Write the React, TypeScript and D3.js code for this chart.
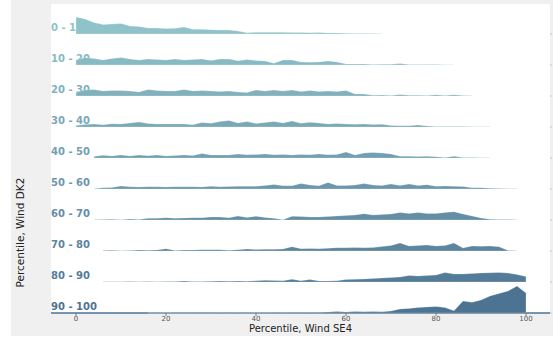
import React from 'react';
import * as d3 from 'd3';

// bin centres on the SE4 percentile axis
const SE4_BINS = [
  0, 2, 4, 6, 8, 10, 12, 14, 16, 18, 20, 22, 24, 26, 28, 30, 32, 34, 36, 38, 40, 42, 44, 46, 48,
  50, 52, 54, 56, 58, 60, 62, 64, 66, 68, 70, 72, 74, 76, 78, 80, 82, 84, 86, 88, 90, 92, 94, 96, 98, 100,
];

const DK2_RANGES = ['0 - 10', '10 - 20', '20 - 30', '30 - 40', '40 - 50', '50 - 60', '60 - 70', '70 - 80', '80 - 90', '90 - 100'];

const X_TICKS = [0, 20, 40, 60, 80, 100];

// relative frequency per bin, one list per DK2 percentile band
const DENS_0_10 = [
  17, 15, 11.5, 9.5, 10, 10.5, 8, 7.5, 6, 6, 5.5, 5.7, 7, 4.7, 4.7, 4.3, 4, 4, 3, 1.3, 1.7, 1.7, 1.7, 1.7, 1.5,
  1.6, 1.3, 1.5, 1, 1.1, 0.8, 0.6, 0.5, 0.5, 0.3, 0, 0, 0, 0, 0, 0, 0, 0, 0, 0, 0, 0, 0, 0, 0, 0,
];
const DENS_10_20 = [
  5, 7.5, 6.5, 5, 6.5, 7.5, 6, 5, 6, 5.5, 5, 6, 5, 5.5, 6, 4.5, 6, 6, 4.2, 5.5, 4.5, 4, 1.7, 5, 5,
  3, 2.7, 3, 4, 3, 1, 1, 1, 0.6, 0.7, 0.8, 1.5, 0.6, 0.5, 0.4, 0.4, 0.3, 0.3, 0, 0, 0, 0, 0, 0, 0, 0,
];
const DENS_20_30 = [
  3.5, 6, 6.5, 5, 5.5, 5.5, 5, 4, 6.5, 5.5, 5, 5, 6.5, 5, 5.5, 5, 4.5, 5, 4, 3.5, 6, 5, 6, 5, 6,
  4.5, 5.5, 4.5, 5, 4.5, 5.5, 2, 2, 0.8, 1, 0.6, 1.5, 0.8, 0.7, 0.5, 1.2, 0.5, 1.3, 0.6, 0.2, 0, 0, 0, 0, 0, 0,
];
const DENS_30_40 = [
  1.5, 2.5, 3, 2.3, 3.2, 3, 4, 5, 3.5, 3, 3, 3, 3, 2.3, 4.5, 3.7, 5.5, 6.5, 4, 5.5, 3.5, 4.5, 5.5, 4, 6,
  3.7, 4.7, 4, 3, 3.5, 3, 2.7, 3, 2.5, 2.7, 1.5, 1.3, 1.2, 2, 1, 0.5, 0.5, 0.4, 0.4, 0.3, 0.3, 0.2, 0, 0, 0, 0,
];
const DENS_40_50 = [
  0, 0, 1.5, 2.7, 2, 3, 2, 3, 2.3, 3, 2, 2.5, 3, 2.5, 4.5, 3, 3, 3, 4, 3.3, 3.5, 4, 3.3, 3.5, 3,
  3.5, 3.3, 4, 3.3, 3.5, 6, 3, 5, 5.5, 5, 4, 1.7, 1.8, 1.5, 1.7, 1.2, 0.5, 1.7, 0.4, 0.6, 0.3, 0.3, 0, 0, 0, 0,
];
const DENS_50_60 = [
  0, 0, 0.3, 1.2, 1.5, 3, 2.2, 2, 2.3, 2.2, 2, 2.3, 2.2, 2.3, 2, 2.7, 2.3, 2.5, 2.7, 2.7, 2.7, 3.5, 4.5, 3.3, 3.3,
  5.5, 4, 3.3, 6.5, 3.5, 3.5, 4, 5.5, 4, 3.5, 5, 3.5, 5, 3.5, 4.3, 2.7, 3, 2.7, 2.5, 1.3, 1.3, 0.7, 0.6, 0.3, 0.3, 0,
];
const DENS_60_70 = [
  0, 0, 0.2, 0.5, 0.7, 0.3, 1, 0.5, 1.7, 1.7, 2.3, 1.7, 2, 2.3, 2.3, 3, 3, 2.3, 4, 2.5, 3.7, 2.5, 1.7, 0.3, 3.7,
  3.5, 3, 3, 3.5, 4, 4.5, 5, 6.3, 5, 5.5, 6, 7.5, 6.5, 7.5, 6.5, 6.5, 7.5, 8.3, 6, 4, 2, 0.8, 0.5, 0.5, 0.3, 0,
];
const DENS_70_80 = [
  0, 0, 0, 0.5, 0.7, 0.3, 0.5, 1, 0.8, 1, 2.3, 0.5, 1, 1, 1.3, 1.2, 1.3, 0.8, 1.3, 2, 1.5, 1.7, 1.7, 2, 4.3,
  2.3, 2.5, 2.3, 2.7, 3.3, 3.3, 3.5, 3.3, 3.5, 4.5, 5.5, 8, 5, 5.5, 6, 5, 5.5, 8, 3, 5, 4.7, 5, 4.3, 0.5, 0.3, 0,
];
const DENS_80_90 = [
  0, 0, 0, 0.2, 0.3, 0.2, 0.4, 0.3, 0.5, 0.3, 0.5, 0.6, 1, 0.5, 0.6, 0.7, 1, 0.8, 1, 0.8, 1.2, 1.7, 1.5, 1.2, 2.7,
  1.3, 2.5, 1, 1, 1.2, 2.5, 2.7, 3, 3.5, 4, 4.5, 5, 6.5, 6, 6.5, 7, 9.5, 8, 8, 8.5, 9, 9.3, 9.5, 9, 7.5, 5.5,
];
const DENS_90_100 = [
  0, 0, 0, 0, 0.1, 0, 0.1, 0, 0.1, 0.2, 0.1, 0.2, 0.1, 0.2, 0.2, 0.2, 0.3, 0.2, 0.3, 0.2, 0.3, 0.3, 0.4, 0.3, 0.4,
  0.4, 0.5, 0.4, 1, 1.5, 1, 1.5, 1.3, 1.5, 1.3, 2, 4, 4.5, 5.5, 6, 6.5, 5.5, 2.3, 12, 10.7, 13, 17, 19.5, 22, 27, 20,
];

const ROWS = [DENS_0_10, DENS_10_20, DENS_20_30, DENS_30_40, DENS_40_50, DENS_50_60, DENS_60_70, DENS_70_80, DENS_80_90, DENS_90_100];

const FONT = 'DejaVu Sans, sans-serif';

export default function App() {
  const left = 51, right = 550, top = 4, bottom = 313;

  const x = d3.scaleLinear().domain([0, 100]).range([76, 526]);
  const rowY = d3.scalePoint<string>().domain(DK2_RANGES).range([34, bottom]);
  const h = d3.scaleLinear().domain([0, 30]).range([0, 30]);
  const colorAt = d3.interpolateRgb('#8fc3c9', '#4d7393');

  return (
    <svg width={553} height={341} style={{ position: 'absolute', left: 0, top: 0 }} fontFamily={FONT}>
      <rect x={0} y={0} width={553} height={341} fill="#fff" />
      <rect x={11} y={0} width={542} height={336} fill="#f0f0f0" />
      <rect x={left} y={top} width={right - left} height={bottom - top} fill="#fff" />

      {ROWS.map((vals, i) => {
        const base = rowY(DK2_RANGES[i])!;
        const col = colorAt(i / 9);
        const area = d3.area<number>()
          .x((_, j) => x(SE4_BINS[j]))
          .y0(base)
          .y1(v => base - h(v))
          .defined(v => v > 0);
        const last = i === ROWS.length - 1;
        return (
          <g key={DK2_RANGES[i]}>
            {last && <line x1={left} x2={right} y1={base} y2={base} stroke={col} strokeWidth={1.5} />}
            <line x1={right} x2={right + 2} y1={base} y2={base} stroke="#bbb" strokeWidth={0.8} />
            <text x={left} y={base - 3.5} fontSize={10} fontWeight="bold" fill={col}>{DK2_RANGES[i]}</text>
            <path d={area(vals) ?? ''} fill={col} stroke="#fff" strokeWidth={0.4} strokeOpacity={0.6} />
          </g>
        );
      })}

      {X_TICKS.map(t => (
        <g key={t} transform={`translate(${x(t)},0)`}>
          <line y1={bottom} y2={bottom + 3} stroke="#666" strokeWidth={0.8} />
          <text y={320.5} textAnchor="middle" fontSize={7} fill="#555">{t}</text>
        </g>
      ))}

      <text x={(left + right) / 2} y={332} textAnchor="middle" fontSize={10} fill="#222">Percentile, Wind SE4</text>
      <text transform="translate(23.5,232.5) rotate(-90)" textAnchor="middle" fontSize={10.5} fill="#222">Percentile, Wind DK2</text>
    </svg>
  );
}
